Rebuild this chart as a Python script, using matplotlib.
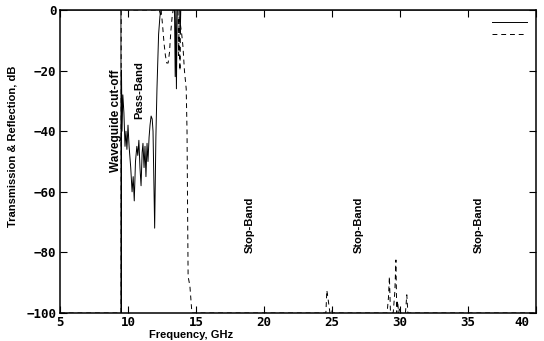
import numpy as np
import matplotlib.pyplot as plt
from matplotlib.transforms import ScaledTranslation

# reflection (solid)
refl_f = [5.0, 9.48, 9.50, 9.52, 9.56, 9.62, 9.70, 9.78, 9.85, 9.92, 10.00,
          10.08, 10.20, 10.30, 10.38, 10.46, 10.55, 10.65, 10.72, 10.80, 10.88,
          10.96, 11.04, 11.10, 11.18, 11.25, 11.32, 11.40, 11.47, 11.55, 11.62,
          11.70, 11.78, 11.84, 11.96, 12.05, 12.13, 12.25, 12.35, 12.45, 13.42,
          13.47, 13.52, 13.56, 13.62, 13.80, 13.84, 13.88, 40.0]
refl_db = [0, 0, -100, -20, -40, -28, -34, -45, -40, -46, -38,
           -45, -52, -60, -55, -63, -50, -45, -48, -43, -52,
           -58, -47, -44, -52, -45, -55, -44, -50, -42, -38,
           -35, -36, -40, -72, -42, -26, -8, -2, 0, 0,
           -22, 0, -26, 0, 0, -8, 0, 0]

# transmission (dashed)
trans_f = [5.0, 9.49, 9.50, 12.30, 12.38, 12.42, 12.48, 12.56, 12.65, 12.75,
           12.85, 12.95, 13.05, 13.15, 13.25, 13.32, 13.68, 13.72, 13.76, 13.82,
           13.86, 13.95, 14.04, 14.15, 14.28, 14.34, 14.38, 14.42, 14.55, 14.70,
           24.40, 24.55, 24.62, 24.70, 24.85, 24.95, 25.05,
           29.05, 29.15, 29.22, 29.30, 29.50, 29.62, 29.70, 29.76, 29.82, 29.90,
           29.98, 30.05, 30.40, 30.50, 30.58, 40.0]
trans_db = [-100, -100, 0, 0, -1.5, 0, -2, -6, -11, -15,
            -17.5, -17.5, -14, -7, -2, 0, 0, -15, -2, -20,
            -5, -8, -12, -20, -26, -40, -65, -88, -91, -100,
            -100, -100, -92.5, -95, -100, -99, -100,
            -100, -95, -88, -100, -100, -93, -82.5, -100, -96, -100,
            -98, -100, -100, -94, -100, -100]

labels = ['Waveguide cut-off', 'Pass-Band', 'Stop-Band', 'Stop-Band', 'Stop-Band']
label_f = [9.1, 10.85, 18.95, 27.0, 35.8]
label_db = [-36.5, -26.5, -71, -71, -71]

fig = plt.figure(figsize=(5.44, 3.41), dpi=100)
ax = fig.add_axes([60 / 544, 28 / 341, 476 / 544, 303 / 341])

l1, = ax.plot(refl_f, refl_db, color='black', lw=0.7)
l2, = ax.plot(trans_f, trans_db, color='black', lw=0.7, linestyle=(0, (5, 4)))

for txt, f, d in zip(labels, label_f, label_db):
    ax.text(f, d, txt, rotation=90, ha='center', va='center',
            fontsize=8.5 if txt.startswith('Wave') else 8, fontweight='bold',
            family='Liberation Sans')

ax.set_xlim(5, 40)
ax.set_ylim(-100, 0)
ax.set_xticks(np.arange(5, 41, 5))
ax.set_yticks(np.arange(-100, 1, 20))
ax.tick_params(direction='in', length=5, width=0.8, top=True, right=True,
               labelsize=9, pad=2.5)
for lab in ax.get_xticklabels() + ax.get_yticklabels():
    lab.set_family('DejaVu Sans Mono')
    lab.set_fontweight('bold')
ax.get_xticklabels()[-1].set_transform(
    ax.get_xticklabels()[-1].get_transform() + ScaledTranslation(-0.14, 0, fig.dpi_scale_trans))

for s in ax.spines.values():
    s.set_linewidth(1.1)
    s.set_zorder(5)

ax.set_xlabel('Frequency, GHz', fontsize=8, fontweight='bold',
              family='Liberation Sans', va='top')
ax.xaxis.set_label_coords(0.276, -0.057)
ax.set_ylabel('Transmission & Reflection, dB', fontsize=8, fontweight='bold',
              family='Liberation Sans')
ax.yaxis.set_label_coords(-0.09, 0.551)

ax.legend([l1, l2], ['', ''], loc='upper right', frameon=False, fontsize=6,
          handlelength=4.2, handletextpad=0, labelspacing=0.35, borderpad=0,
          borderaxespad=0, bbox_to_anchor=(0.982, 0.975))

fig.savefig('out.png', dpi=100)
